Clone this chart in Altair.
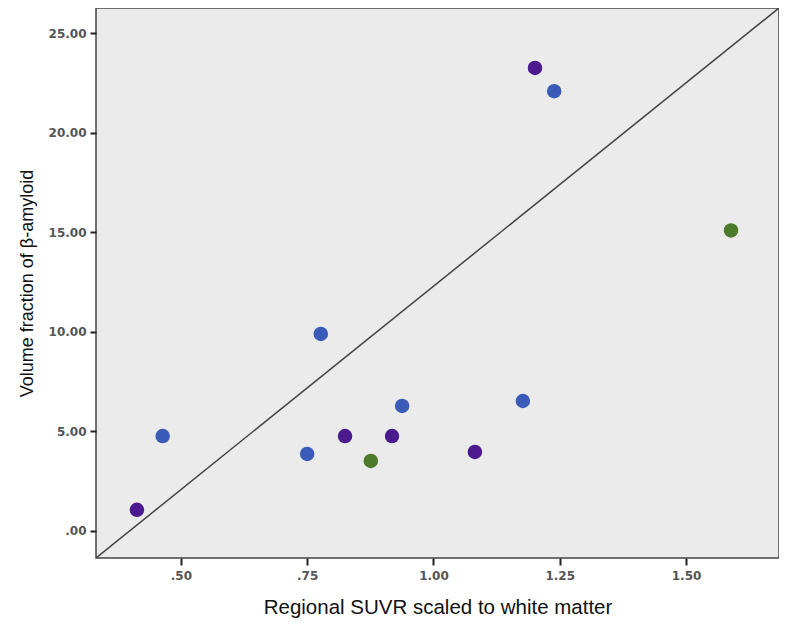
import altair as alt
import pandas as pd

suvr = [0.413, 0.464, 0.750, 0.777, 0.825, 0.876, 0.918, 0.938, 1.082, 1.177, 1.201, 1.239, 1.589]
volume = [1.06, 4.77, 3.87, 9.90, 4.77, 3.52, 4.77, 6.28, 3.97, 6.53, 23.27, 22.10, 15.10]
group = ["A", "B", "B", "B", "A", "C", "A", "B", "A", "B", "A", "B", "C"]

x_dom = [0.332, 1.684]
y_dom = [-1.36, 26.28]

df = pd.DataFrame({"x": suvr, "y": volume, "g": group})
line_df = pd.DataFrame({"x": x_dom, "y": y_dom})

xs = alt.Scale(domain=x_dom, nice=False, zero=False)
ys = alt.Scale(domain=y_dom, nice=False, zero=False)

lab = "datum.value < 1 && datum.value >= 0 ? substring(format(datum.value, '.2f'), 1) : format(datum.value, '.2f')"

xaxis = alt.Axis(title="Regional SUVR scaled to white matter", values=[0.5, 0.75, 1.0, 1.25, 1.5],
                 labelExpr=lab, grid=False, ticks=True, tickSize=7, tickColor="#222", tickWidth=2,
                 domain=False,
                 labelFont="DejaVu Sans", labelFontSize=12, labelFontWeight="bold",
                 labelColor="#555", labelPadding=5,
                 titleFont="Liberation Sans", titleFontSize=20.5, titleFontWeight="normal",
                 titleColor="#111", titlePadding=16)
yaxis = alt.Axis(title="Volume fraction of β-amyloid", values=[0, 5, 10, 15, 20, 25],
                 labelExpr=lab, grid=False, ticks=True, tickSize=6, tickColor="#222", tickWidth=2,
                 domain=False,
                 labelFont="DejaVu Sans", labelFontSize=12, labelFontWeight="bold",
                 labelColor="#555", labelPadding=4,
                 titleFont="Liberation Sans", titleFontSize=18, titleFontWeight="normal",
                 titleColor="#111", titlePadding=12)

diag = alt.Chart(line_df).mark_line(color="#444", strokeWidth=1.5, clip=True).encode(
    x=alt.X("x:Q", scale=xs, axis=xaxis),
    y=alt.Y("y:Q", scale=ys, axis=yaxis),
)

pts = alt.Chart(df).mark_point(filled=True, shape="circle", size=210, opacity=1).encode(
    x=alt.X("x:Q", scale=xs, axis=xaxis),
    y=alt.Y("y:Q", scale=ys, axis=yaxis),
    color=alt.Color("g:N", scale=alt.Scale(domain=["A", "B", "C"],
                                          range=["#4C1A8E", "#3A5CB8", "#4E7A2C"]), legend=None),
)

chart = (diag + pts).properties(
    width=683, height=550,
    autosize=alt.AutoSizeParams(type="none"),
    padding={"left": 88, "top": 0, "right": 0, "bottom": 70},
    background="white",
).configure_view(fill="#EBEBEB", stroke="#444", strokeWidth=1.5)

chart.save("out.html", embed_options={"renderer": "svg", "actions": False})
